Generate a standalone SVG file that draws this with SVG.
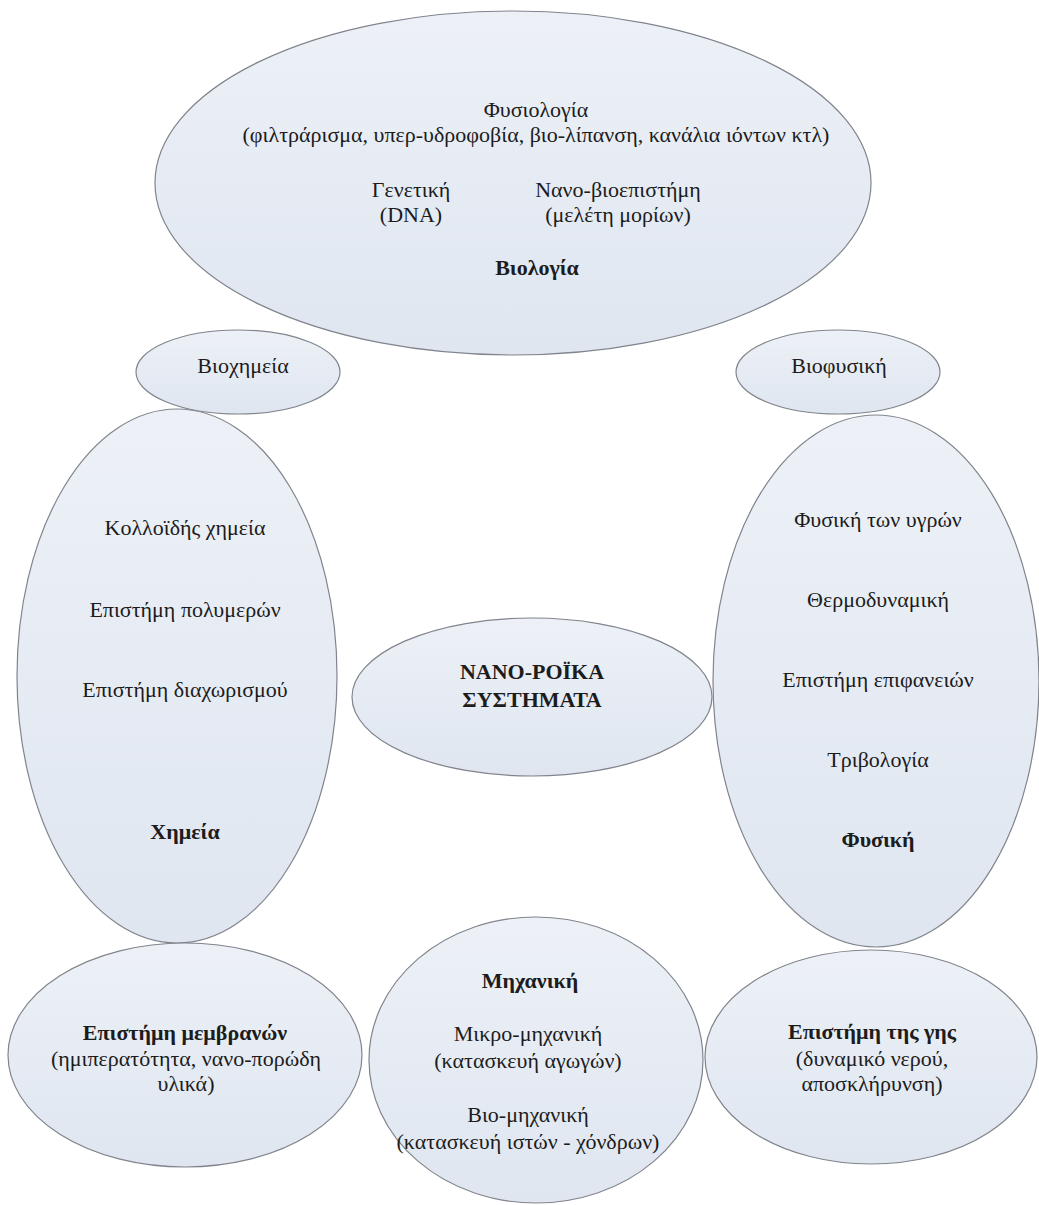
<svg xmlns="http://www.w3.org/2000/svg" width="1039" height="1205" viewBox="0 0 1039 1205">
<style>
.n{stroke:#80848c;stroke-width:1.2;fill:url(#g)}
</style>
<defs>
<linearGradient id="g" x1="0" y1="0" x2="0" y2="1">
<stop offset="0" stop-color="#edf1f7"/>
<stop offset="1" stop-color="#dfe6f0"/>
</linearGradient>
</defs>
<rect width="1039" height="1205" fill="#ffffff"/>
<g id="connectors"></g>
<g id="biochemistry">
<ellipse class="n" cx="238" cy="372" rx="102" ry="42"/>
<text font-family="Liberation Serif" font-size="22" fill="#1c1c1c" text-anchor="middle" x="243" y="373">Βιοχημεία</text>
</g>
<g id="biophysics">
<ellipse class="n" cx="838" cy="372" rx="102" ry="42"/>
<text font-family="Liberation Serif" font-size="22" fill="#1c1c1c" text-anchor="middle" x="839" y="373">Βιοφυσική</text>
</g>
<g id="biology">
<ellipse class="n" cx="513" cy="183" rx="358" ry="172"/>
<text font-family="Liberation Serif" font-size="22" fill="#1c1c1c" text-anchor="middle" x="536" y="117">Φυσιολογία</text>
<text font-family="Liberation Serif" font-size="22" fill="#1c1c1c" text-anchor="middle" x="536" y="142">(φιλτράρισμα, υπερ-υδροφοβία, βιο-λίπανση, κανάλια ιόντων κτλ)</text>
<text font-family="Liberation Serif" font-size="22" fill="#1c1c1c" text-anchor="middle" x="411" y="197">Γενετική</text>
<text font-family="Liberation Serif" font-size="22" fill="#1c1c1c" text-anchor="middle" x="411" y="222">(DNA)</text>
<text font-family="Liberation Serif" font-size="22" fill="#1c1c1c" text-anchor="middle" x="618" y="197">Νανο-βιοεπιστήμη</text>
<text font-family="Liberation Serif" font-size="22" fill="#1c1c1c" text-anchor="middle" x="618" y="222">(μελέτη μορίων)</text>
<text font-family="Liberation Serif" font-size="22" font-weight="bold" fill="#1c1c1c" text-anchor="middle" x="537" y="275">Βιολογία</text>
</g>
<g id="chemistry">
<ellipse class="n" cx="177" cy="676" rx="160" ry="267"/>
<text font-family="Liberation Serif" font-size="22" fill="#1c1c1c" text-anchor="middle" x="185" y="535">Κολλοϊδής χημεία</text>
<text font-family="Liberation Serif" font-size="22" fill="#1c1c1c" text-anchor="middle" x="185" y="617">Επιστήμη πολυμερών</text>
<text font-family="Liberation Serif" font-size="22" fill="#1c1c1c" text-anchor="middle" x="185" y="697">Επιστήμη διαχωρισμού</text>
<text font-family="Liberation Serif" font-size="22" font-weight="bold" fill="#1c1c1c" text-anchor="middle" x="185" y="839">Χημεία</text>
</g>
<g id="physics">
<ellipse class="n" cx="876" cy="681" rx="163" ry="266"/>
<text font-family="Liberation Serif" font-size="22" fill="#1c1c1c" text-anchor="middle" x="878" y="527">Φυσική των υγρών</text>
<text font-family="Liberation Serif" font-size="22" fill="#1c1c1c" text-anchor="middle" x="878" y="607">Θερμοδυναμική</text>
<text font-family="Liberation Serif" font-size="22" fill="#1c1c1c" text-anchor="middle" x="878" y="687">Επιστήμη επιφανειών</text>
<text font-family="Liberation Serif" font-size="22" fill="#1c1c1c" text-anchor="middle" x="878" y="767">Τριβολογία</text>
<text font-family="Liberation Serif" font-size="22" font-weight="bold" fill="#1c1c1c" text-anchor="middle" x="878" y="847">Φυσική</text>
</g>
<g id="nanofluidics">
<ellipse class="n" cx="532" cy="697" rx="180" ry="79"/>
<text font-family="Liberation Serif" font-size="22" font-weight="bold" fill="#1c1c1c" text-anchor="middle" x="532" y="679">ΝΑΝΟ-ΡΟΪΚΑ</text>
<text font-family="Liberation Serif" font-size="22" font-weight="bold" fill="#1c1c1c" text-anchor="middle" x="532" y="707">ΣΥΣΤΗΜΑΤΑ</text>
</g>
<g id="membranes">
<ellipse class="n" cx="185" cy="1055" rx="177" ry="112"/>
<text font-family="Liberation Serif" font-size="22" font-weight="bold" fill="#1c1c1c" text-anchor="middle" x="185" y="1040">Επιστήμη μεμβρανών</text>
<text font-family="Liberation Serif" font-size="22" fill="#1c1c1c" text-anchor="middle" x="186" y="1066">(ημιπερατότητα, νανο-πορώδη</text>
<text font-family="Liberation Serif" font-size="22" fill="#1c1c1c" text-anchor="middle" x="186" y="1091">υλικά)</text>
</g>
<g id="engineering">
<ellipse class="n" cx="536" cy="1060" rx="167" ry="143"/>
<text font-family="Liberation Serif" font-size="22" font-weight="bold" fill="#1c1c1c" text-anchor="middle" x="530" y="988">Μηχανική</text>
<text font-family="Liberation Serif" font-size="22" fill="#1c1c1c" text-anchor="middle" x="528" y="1041">Μικρο-μηχανική</text>
<text font-family="Liberation Serif" font-size="22" fill="#1c1c1c" text-anchor="middle" x="528" y="1068">(κατασκευή αγωγών)</text>
<text font-family="Liberation Serif" font-size="22" fill="#1c1c1c" text-anchor="middle" x="528" y="1122">Βιο-μηχανική</text>
<text font-family="Liberation Serif" font-size="22" fill="#1c1c1c" text-anchor="middle" x="528" y="1149">(κατασκευή ιστών - χόνδρων)</text>
</g>
<g id="earthscience">
<ellipse class="n" cx="871" cy="1057" rx="166" ry="107"/>
<text font-family="Liberation Serif" font-size="22" font-weight="bold" fill="#1c1c1c" text-anchor="middle" x="872" y="1039">Επιστήμη της γης</text>
<text font-family="Liberation Serif" font-size="22" fill="#1c1c1c" text-anchor="middle" x="872" y="1066">(δυναμικό νερού,</text>
<text font-family="Liberation Serif" font-size="22" fill="#1c1c1c" text-anchor="middle" x="872" y="1091">αποσκλήρυνση)</text>
</g>
</svg>
